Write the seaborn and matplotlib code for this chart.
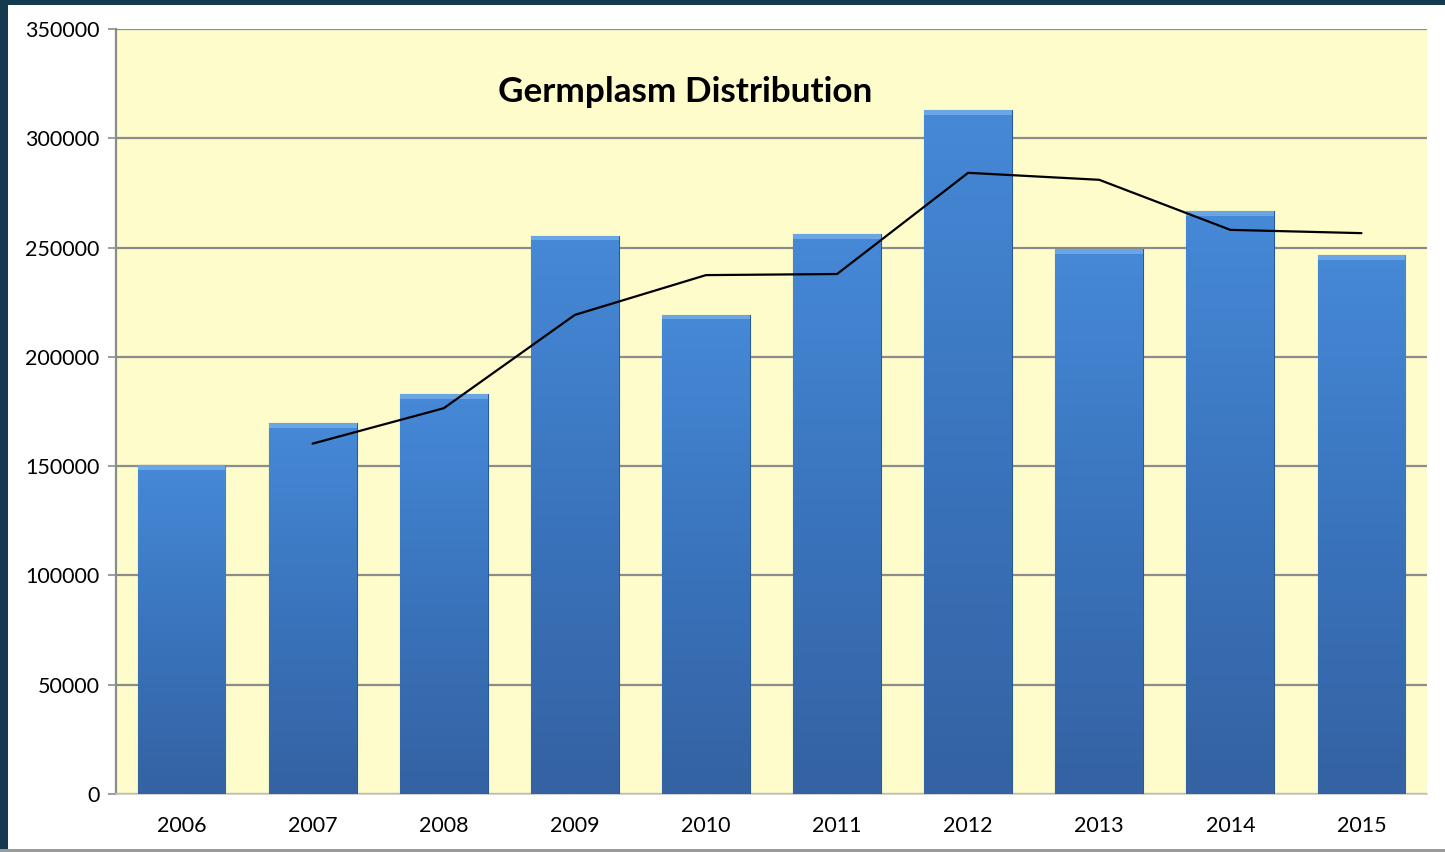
import numpy as np
import pandas as pd
import matplotlib
matplotlib.use("Agg")
import matplotlib.pyplot as plt
import seaborn as sns
from matplotlib.patches import Rectangle

# Data
years = ["2006", "2007", "2008", "2009", "2010", "2011", "2012", "2013", "2014", "2015"]
distributed = [150500, 169800, 183000, 255500, 219300, 256300, 313000, 249300, 266800, 246700]
trend_years = ["2007", "2008", "2009", "2010", "2011", "2012", "2013", "2014", "2015"]
trend_values = [160300, 176500, 219200, 237400, 237900, 284200, 281000, 258100, 256600]
y_ticks = [0, 50000, 100000, 150000, 200000, 250000, 300000, 350000]

sns.set_theme(style="white")
plt.rcParams["font.family"] = ["Lato", "DejaVu Sans"]

df = pd.DataFrame({"Year": years, "Count": distributed})

fig = plt.figure(figsize=(14.45, 8.52), dpi=100)
fig.patch.set_facecolor("white")
ax = fig.add_axes([116 / 1445, 58 / 852, 1311 / 1445, 765 / 852])
ax.set_facecolor("#fefccb")

sns.barplot(data=df, x="Year", y="Count", color="#3b78c5", width=0.67,
            saturation=1, edgecolor="#2a5a96", linewidth=0.8, ax=ax, zorder=3)

# vertical gradient on each bar
grad = np.linspace(0, 1, 256).reshape(-1, 1)
cmap = matplotlib.colors.LinearSegmentedColormap.from_list(
    "bar", ["#3462a2", "#3a74bd", "#4689d7"])
for bar in ax.patches:
    x0, y0 = bar.get_x(), bar.get_y()
    w, h = bar.get_width(), bar.get_height()
    im = ax.imshow(grad, extent=[x0, x0 + w, y0, y0 + h], origin="lower",
                   aspect="auto", cmap=cmap, zorder=3.5)
    im.set_clip_path(bar)
    # light top bevel
    ax.add_patch(Rectangle((x0, y0 + h - 2200), w, 2200, color="#6aa6e6",
                           zorder=3.6, linewidth=0))

pos = [years.index(y) for y in trend_years]
sns.lineplot(x=pos, y=trend_values, color="black", linewidth=1.6, ax=ax, zorder=5)

ax.set_xlim(-0.5, len(years) - 0.5)
ax.set_ylim(0, 350000)
ax.set_yticks(y_ticks)
ax.set_yticklabels([str(v) for v in y_ticks], fontsize=15.5, color="black")
ax.tick_params(axis="x", labelsize=15.5, colors="black", length=0, pad=16)
ax.tick_params(axis="y", length=6, width=1.2, color="#8c8c8c", pad=6, left=True)
ax.yaxis.grid(True, color="#8c8c8c", linewidth=1.6, zorder=1)
ax.set_axisbelow(True)
ax.set_xlabel("")
ax.set_ylabel("")
for side in ["top", "right"]:
    ax.spines[side].set_visible(False)
ax.spines["left"].set_color("#8c8c8c")
ax.spines["left"].set_linewidth(1.6)
ax.spines["bottom"].set_color("#c8c8c8")
ax.spines["bottom"].set_linewidth(1.2)

ax.text(0.434, 0.918, "Germplasm Distribution", transform=ax.transAxes,
        ha="center", va="center", fontsize=25.3, fontweight="bold", color="black")

# dark frame around the slide
fig.add_artist(Rectangle((0, 0), 8 / 1445, 1, transform=fig.transFigure,
                         color="#143a4f", linewidth=0))
fig.add_artist(Rectangle((0, 1 - 5 / 852), 1, 5 / 852, transform=fig.transFigure,
                         color="#143a4f", linewidth=0))
fig.add_artist(Rectangle((0, 0), 1, 3 / 852, transform=fig.transFigure,
                         color="#9a9a9a", linewidth=0))

fig.savefig("out.png", dpi=100)
